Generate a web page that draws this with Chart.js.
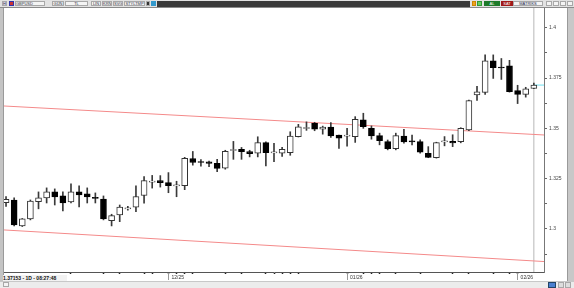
<!DOCTYPE html>
<html><head><meta charset="utf-8">
<script src="https://cdn.jsdelivr.net/npm/chart.js@4.4.1/dist/chart.umd.min.js"></script>
<style>
html,body{margin:0;padding:0;width:574px;height:288px;overflow:hidden;background:#fff;font-family:"Liberation Sans",Arial,sans-serif;}
#wrap{position:absolute;left:0;top:0;width:567px;height:281px;z-index:1;}
#top{position:absolute;left:0;top:0;width:574px;height:8px;background:#e2e2e2;border-bottom:1px solid #8a8a8a;box-sizing:border-box;z-index:2;}
.b{position:absolute;top:1px;height:5px;background:#f4f4f4;border:1px solid #a8a8a8;box-sizing:border-box;font-size:4px;line-height:3px;color:#334;text-align:center;overflow:hidden;}
#dark{position:absolute;left:157px;top:1px;width:313px;height:6px;background:#3a3a3a;}
#left{position:absolute;left:0;top:8px;width:3px;height:273px;background:#c4c4c4;border-right:1px solid #9a9a9a;z-index:2;}
#right{position:absolute;left:567px;top:8px;width:7px;height:273px;background:#c8c8c8;border-left:1px solid #9a9a9a;box-sizing:border-box;z-index:2;}
#bottom{position:absolute;left:0;top:281px;width:574px;height:7px;background:#ececec;border-top:1px solid #c8c8c8;box-sizing:border-box;z-index:2;}
#info{position:absolute;left:3px;top:275px;width:64px;height:6px;background:#f2f2f2;font-size:5px;line-height:6px;font-weight:bold;color:#111;white-space:nowrap;z-index:2;}
</style></head>
<body>
<div id="top">
  <div class="b" style="left:2px;width:5px;background:#dde;">H</div>
  <div class="b" style="left:9px;width:5px;background:#c33;border-color:#33a;"></div>
  <div class="b" style="left:15px;width:30px;text-align:left;">GBPUSD</div>
  <div class="b" style="left:52px;width:12px;">GÜN</div>
  <div class="b" style="left:65px;width:23px;">TL</div>
  <div class="b" style="left:91px;width:10px;">LIN</div>
  <div class="b" style="left:102px;width:10px;">KRN</div>
  <div class="b" style="left:113px;width:10px;">SVG</div>
  <div class="b" style="left:124px;width:21px;">STYLTMP</div>
  <div class="b" style="left:146px;width:4px;background:#333;"></div>
  <div class="b" style="left:151px;width:5px;background:#39c;border-color:#39c;"></div>
  <div id="dark"></div>
  <div class="b" style="left:472px;width:4px;background:#f0a020;border-color:#c80;"></div>
  <div class="b" style="left:477px;width:5px;background:#6c6;border-color:#393;"></div>
  <div class="b" style="left:484px;width:16px;background:#1d7a2a;border-color:#1d7a2a;color:#fff;">AL</div>
  <div class="b" style="left:501px;width:12px;background:#a01818;border-color:#a01818;color:#fff;">SAT</div>
  <div class="b" style="left:513px;width:30px;color:#224;">MATRIKS</div>
  <div class="b" style="left:546px;width:6px;"></div>
  <div class="b" style="left:553px;width:6px;"></div>
  <div class="b" style="left:560px;width:6px;"></div>
  <div class="b" style="left:567px;width:6px;"></div>
</div>
<div id="wrap"><canvas id="c" width="567" height="281"></canvas></div>
<div id="left"></div>
<div id="right"></div>
<div id="bottom">
  <div class="b" style="left:3px;top:0;width:6px;height:5px;"></div>
  <div class="b" style="left:548px;top:0;width:8px;height:6px;background:#4a7fd0;border-color:#246;"></div>
  <div class="b" style="left:558px;top:0;width:6px;height:6px;background:#ddd;"></div>
  <div class="b" style="left:565px;top:0;width:6px;height:6px;background:#ddd;"></div>
</div>
<div id="info">1.37153 - 1D - 08:27:48</div>
<script>
// OHLC daily candles (GBPUSD)
const opens  = [1.3131,1.3144,1.3015,1.3050,1.3135,1.3154,1.3184,1.3164,1.3134,1.3184,1.3174,1.3156,1.3148,1.3041,1.3070,1.3100,1.3108,1.3166,1.3233,1.3240,1.3230,1.3214,1.3215,1.3350,1.3331,1.3334,1.3326,1.3302,1.3390,1.3396,1.3384,1.3376,1.3429,1.3378,1.3376,1.3379,1.3459,1.3499,1.3525,1.3496,1.3506,1.3467,1.3461,1.3459,1.3542,1.3500,1.3464,1.3434,1.3399,1.3462,1.3435,1.3434,1.3376,1.3354,1.3433,1.3435,1.3434,1.3492,1.3666,1.3679,1.3836,1.3802,1.3810,1.3687,1.3669,1.3698];
const highs  = [1.3161,1.3154,1.3052,1.3144,1.3184,1.3204,1.3199,1.3184,1.3224,1.3214,1.3204,1.3179,1.3164,1.3073,1.3119,1.3112,1.3214,1.3260,1.3266,1.3265,1.3280,1.3237,1.3356,1.3385,1.3345,1.3337,1.3346,1.3391,1.3435,1.3405,1.3391,1.3458,1.3433,1.3425,1.3405,1.3483,1.3520,1.3532,1.3530,1.3511,1.3528,1.3467,1.3500,1.3558,1.3575,1.3512,1.3476,1.3442,1.3476,1.3495,1.3466,1.3443,1.3409,1.3431,1.3459,1.3468,1.3503,1.3640,1.3709,1.3865,1.3865,1.3847,1.3838,1.3714,1.3704,1.3725];
const lows   = [1.3112,1.3015,1.3012,1.3045,1.3100,1.3129,1.3119,1.3089,1.3129,1.3109,1.3129,1.3129,1.3045,1.3015,1.3036,1.3093,1.3086,1.3128,1.3203,1.3208,1.3180,1.3160,1.3195,1.3317,1.3312,1.3310,1.3284,1.3297,1.3346,1.3346,1.3358,1.3358,1.3313,1.3334,1.3361,1.3366,1.3457,1.3490,1.3488,1.3471,1.3455,1.3400,1.3411,1.3430,1.3500,1.3446,1.3418,1.3393,1.3393,1.3426,1.3418,1.3376,1.3354,1.3352,1.3413,1.3409,1.3428,1.3488,1.3639,1.3669,1.3748,1.3743,1.3680,1.3623,1.3655,1.3697];
const closes = [1.3147,1.3020,1.3050,1.3139,1.3155,1.3184,1.3159,1.3129,1.3184,1.3169,1.3159,1.3152,1.3050,1.3066,1.3109,1.3105,1.3161,1.3240,1.3236,1.3230,1.3215,1.3217,1.3351,1.3330,1.3330,1.3326,1.3301,1.3386,1.3393,1.3384,1.3374,1.3429,1.3379,1.3380,1.3396,1.3462,1.3508,1.3501,1.3496,1.3506,1.3462,1.3451,1.3463,1.3545,1.3508,1.3462,1.3439,1.3399,1.3464,1.3432,1.3433,1.3381,1.3356,1.3429,1.3435,1.3427,1.3500,1.3638,1.3682,1.3836,1.3802,1.3800,1.3682,1.3669,1.3696,1.3715];

// regression channel (value at left edge, value at right edge)
const channelUpper = [1.3611, 1.3467];
const channelLower = [1.2995, 1.2838];

// axes
const yTicks  = [1.2875,1.3,1.3125,1.325,1.3375,1.35,1.3625,1.375,1.3875,1.4];
const yLabels = ['','1.3','','1.325','','1.35','','1.375','','1.4'];
const xTickIdx = [8,12,14,17,18,20,21,22,23,27,29,32,33,34,35,36,42,44,45,46,48,51,55,57,60,62,63];
const monthIdx = [20,42,63];
const monthLabels = ['12/25','01/26','02/26'];

const yMin = 1.2786, yMax = 1.4098;
const xMin = -0.25, xMax = opens.length + 0.25;
const last = opens.length - 1;

const isUp = i => closes[i] >= opens[i];

new Chart(document.getElementById('c'), {
  type: 'bar',
  data: {
    datasets: [
      {
        label: 'body', order: 0, grouped: false,
        data: opens.map((o, i) => ({x: i, y: [o, closes[i]]})),
        backgroundColor: ctx => isUp(ctx.dataIndex) ? '#ffffff' : '#000000',
        borderColor: ctx => isUp(ctx.dataIndex) ? '#333333' : '#000000',
        borderWidth: 1, borderSkipped: false, barThickness: 6, minBarLength: 1
      },
      {
        label: 'wick', order: 1, grouped: false,
        data: highs.map((h, i) => ({x: i, y: [lows[i], h]})),
        backgroundColor: '#3a3a3a', borderWidth: 0, barThickness: 1
      },
      {
        type: 'line', label: 'upper', order: 3,
        data: [{x: xMin, y: channelUpper[0]}, {x: xMax, y: channelUpper[1]}],
        borderColor: '#f48a8a', borderWidth: 1, pointRadius: 0
      },
      {
        type: 'line', label: 'lower', order: 3,
        data: [{x: xMin, y: channelLower[0]}, {x: xMax, y: channelLower[1]}],
        borderColor: '#f48a8a', borderWidth: 1, pointRadius: 0
      },
      {
        type: 'line', label: 'cursor', order: 4,
        data: [{x: last, y: yMin}, {x: last, y: yMax}],
        borderColor: '#b8b8b8', borderWidth: 1, pointRadius: 0
      },
      {
        type: 'line', label: 'price', order: 2,
        data: [{x: last, y: closes[last]}, {x: xMax, y: closes[last]}],
        borderColor: '#70e0f0', borderWidth: 1, pointRadius: 0
      }
    ]
  },
  options: {
    responsive: false, animation: false,
    layout: {padding: {left: 4, top: 8, right: 0, bottom: 0}},
    plugins: {legend: {display: false}, tooltip: {enabled: false}},
    scales: {
      x: {
        type: 'linear', position: 'bottom', weight: 1, min: xMin, max: xMax, offset: false,
        afterBuildTicks: s => { s.ticks = xTickIdx.map(v => ({value: v})); },
        afterFit: s => { s.height = 9; },
        ticks: {
          autoSkip: false, maxRotation: 0, align: 'start', labelOffset: 3, padding: 1,
          font: {size: 5, family: 'Liberation Sans'}, color: '#333',
          callback: v => { const k = monthIdx.indexOf(v); return k >= 0 ? monthLabels[k] : ''; }
        },
        grid: {drawOnChartArea: false, offset: false, tickLength: 2, tickWidth: 1.5, tickColor: '#222'},
        border: {color: '#555', width: 1}
      },
      xm: {
        type: 'linear', position: 'bottom', weight: 0, min: xMin, max: xMax, offset: false,
        afterBuildTicks: s => { s.ticks = monthIdx.map(v => ({value: v})); },
        afterFit: s => { s.height = 0; },
        ticks: {display: false, autoSkip: false},
        grid: {drawOnChartArea: false, offset: false, tickLength: 8, tickColor: '#999'},
        border: {display: false}
      },
      y: {
        type: 'linear', position: 'right', min: yMin, max: yMax, beginAtZero: false,
        afterBuildTicks: s => { s.ticks = yTicks.map(v => ({value: v})); },
        afterFit: s => { s.width = 23; },
        ticks: {
          autoSkip: false, padding: 2,
          font: {size: 5, family: 'Liberation Sans'}, color: '#444',
          callback: (v, i) => yLabels[i]
        },
        grid: {drawOnChartArea: false, tickLength: 3, tickColor: '#666'},
        border: {color: '#777', width: 1}
      }
    }
  }
});
</script>
</body></html>
